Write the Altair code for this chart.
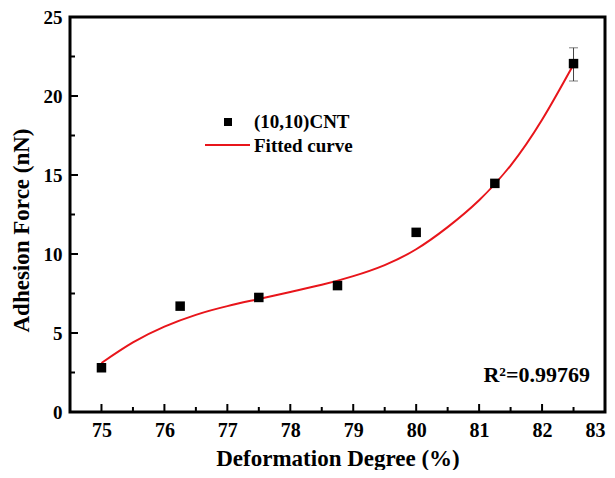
import altair as alt
import pandas as pd

# ---------------- data ----------------
x_vals = [75, 76.25, 77.5, 78.75, 80, 81.25, 82.5]
force = [2.8, 6.7, 7.25, 8.0, 11.37, 14.47, 22.05]

err_x = [82.5]
err_low = [20.95]
err_high = [23.05]

fit_x = [75.0, 75.5, 76.0, 76.5, 77.0, 77.5, 78.0, 78.5, 79.0, 79.5,
         80.0, 80.5, 81.0, 81.5, 82.0, 82.5]
fit_y = [3.1, 4.4, 5.4, 6.15, 6.7, 7.15, 7.6, 8.05, 8.6, 9.3,
         10.3, 11.7, 13.4, 15.6, 18.5, 22.0]

x_ticks = [75, 76, 77, 78, 79, 80, 81, 82, 83]
x_minor = [74.5, 75.5, 76.5, 77.5, 78.5, 79.5, 80.5, 81.5, 82.5]
y_ticks = [0, 5, 10, 15, 20, 25]
y_minor = [2.5, 7.5, 12.5, 17.5, 22.5]

legend_labels = ["(10,10)CNT", "Fitted curve"]
r2_label = ["R\u00b2=0.99769"]

x_title = "Deformation Degree (%)"
y_title = "Adhesion Force (nN)"

# ---------------- layout/style ----------------
W, H = 535, 395
FONT = "Liberation Serif"
RED = "#e8151b"

xs = alt.Scale(domain=[74.5, 83], nice=False, zero=False)
ys = alt.Scale(domain=[0, 25], nice=False, zero=True)

pts_df = pd.DataFrame({"x": x_vals, "y": force})
fit_df = pd.DataFrame({"x": fit_x, "y": fit_y})
err_df = pd.DataFrame({"x": err_x, "lo": err_low, "hi": err_high})

axis_common = dict(
    tickSize=0, domain=False, grid=False, format="d",
    labelFont=FONT, labelFontWeight="bold", labelColor="black",
    titleFont=FONT, titleFontSize=23, titleFontWeight="bold", titleColor="black",
    labelPadding=8,
)
X_AX = alt.Axis(values=x_ticks, title=x_title, titlePadding=7, labelFontSize=20,
                **axis_common)
Y_AX = alt.Axis(values=y_ticks, title=y_title, titlePadding=10, titleY=213,
                labelFontSize=19, **axis_common)


def X(f):
    return alt.X(f, scale=xs, axis=X_AX)


def Y(f):
    return alt.Y(f, scale=ys, axis=Y_AX)


fit_line = alt.Chart(fit_df).mark_line(
    color=RED, strokeWidth=2, interpolate="natural"
).encode(x=X("x:Q"), y=Y("y:Q"))

points = alt.Chart(pts_df).mark_point(
    shape="square", filled=True, color="black", size=90, opacity=1
).encode(x=X("x:Q"), y=Y("y:Q"))

err_rule = alt.Chart(err_df).mark_rule(color="#444444", strokeWidth=1).encode(
    x=X("x:Q"), y=Y("lo:Q"), y2="hi:Q")
err_cap_lo = alt.Chart(err_df).mark_tick(
    color="#444444", thickness=1, size=9, orient="horizontal"
).encode(x=X("x:Q"), y=Y("lo:Q"))
err_cap_hi = alt.Chart(err_df).mark_tick(
    color="#444444", thickness=1, size=9, orient="horizontal"
).encode(x=X("x:Q"), y=Y("hi:Q"))

# inward ticks
xmaj = alt.Chart(pd.DataFrame({"t": x_ticks})).mark_rule(color="black", strokeWidth=2).encode(
    x=X("t:Q"), y=alt.value(H), y2=alt.value(H - 8))
xmin = alt.Chart(pd.DataFrame({"t": x_minor})).mark_rule(color="black", strokeWidth=2).encode(
    x=X("t:Q"), y=alt.value(H), y2=alt.value(H - 5))
ymaj = alt.Chart(pd.DataFrame({"t": y_ticks})).mark_rule(color="black", strokeWidth=2).encode(
    y=Y("t:Q"), x=alt.value(0), x2=alt.value(8))
ymin = alt.Chart(pd.DataFrame({"t": y_minor})).mark_rule(color="black", strokeWidth=2).encode(
    y=Y("t:Q"), x=alt.value(0), x2=alt.value(5))

# legend
leg1 = pd.DataFrame({"label": [legend_labels[0]]})
leg2 = pd.DataFrame({"label": [legend_labels[1]]})
leg_sq = alt.Chart(leg1).mark_point(shape="square", filled=True, color="black",
                                    size=64, opacity=1).encode(
    x=alt.value(158), y=alt.value(105))
leg_t1 = alt.Chart(leg1).mark_text(align="left", baseline="middle", font=FONT,
                                   fontSize=19, fontWeight="bold", color="black").encode(
    x=alt.value(184), y=alt.value(105), text="label:N")
leg_ln = alt.Chart(leg2).mark_rule(color=RED, strokeWidth=2).encode(
    x=alt.value(135), x2=alt.value(180), y=alt.value(128))
leg_t2 = alt.Chart(leg2).mark_text(align="left", baseline="middle", font=FONT,
                                   fontSize=19, fontWeight="bold", color="black").encode(
    x=alt.value(184), y=alt.value(129), text="label:N")

r2 = alt.Chart(pd.DataFrame({"label": r2_label})).mark_text(
    align="right", baseline="middle", font=FONT, fontSize=22, fontWeight="bold",
    color="black").encode(x=alt.value(520), y=alt.value(358), text="label:N")

chart = alt.layer(
    fit_line, err_rule, err_cap_lo, err_cap_hi, points,
    xmaj, xmin, ymaj, ymin,
    leg_sq, leg_t1, leg_ln, leg_t2, r2,
).properties(
    width=W, height=H,
    autosize=alt.AutoSizeParams(type="none"),
    padding={"left": 62, "top": 9, "right": 2, "bottom": 58},
    background="white",
).configure_view(
    stroke="black", strokeWidth=3
)

chart.save("out.html", embed_options={"renderer": "svg", "actions": False})
